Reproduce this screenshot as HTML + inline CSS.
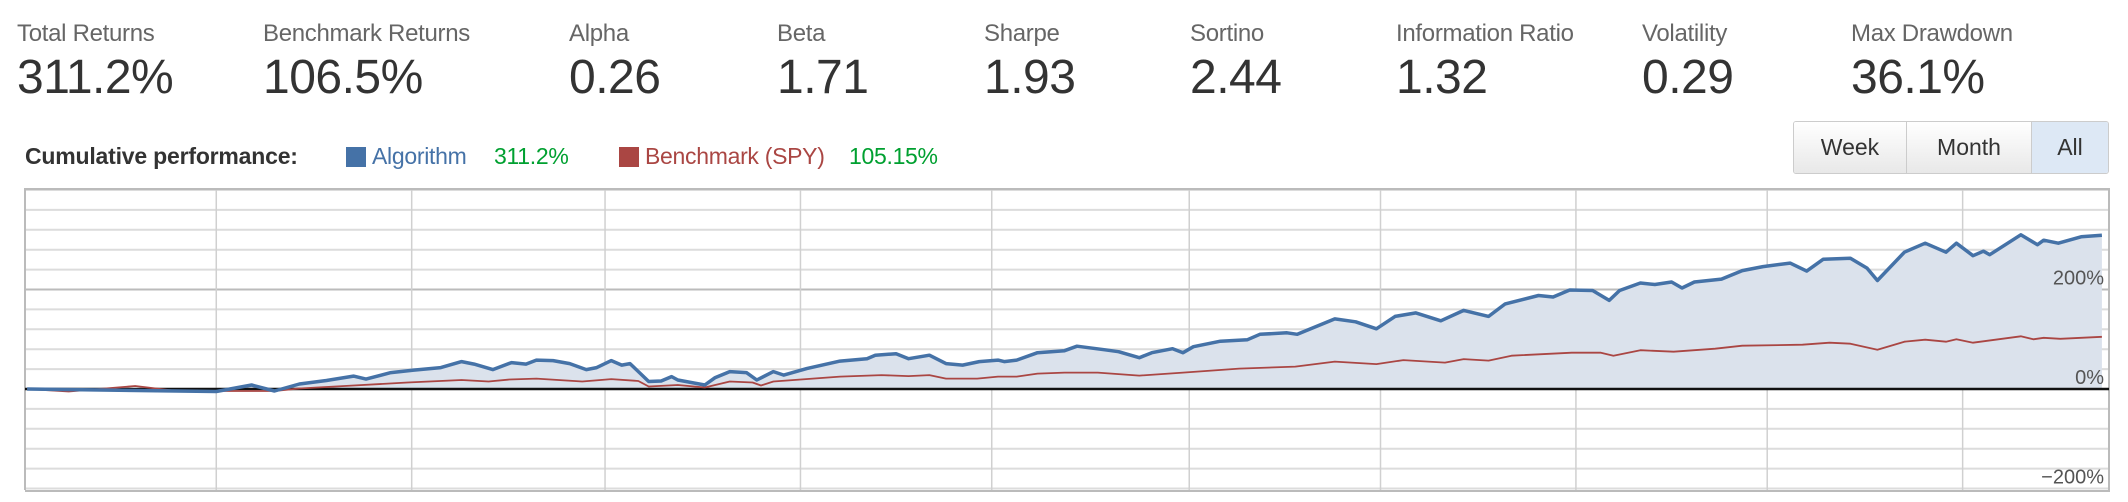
<!DOCTYPE html>
<html><head><meta charset="utf-8">
<style>
body{margin:0;width:2128px;height:502px;background:#fff;font-family:"Liberation Sans",Arial,sans-serif;overflow:hidden;position:relative}
.stat{position:absolute;top:20px}
.stat .lbl{font-size:24px;color:#666;white-space:nowrap;letter-spacing:-0.3px}
.stat .val{font-size:48px;color:#333;margin-top:2px;white-space:nowrap;letter-spacing:-0.5px}
.lg{position:absolute;top:143px;font-size:23px;white-space:nowrap;letter-spacing:-0.3px}
.sw{position:absolute;top:147px;width:20px;height:20px}
#btns{position:absolute;left:1793px;top:121px;width:316px;height:53px;display:flex;border:1px solid #ccc;box-sizing:border-box;border-radius:3px;overflow:hidden}
#btns div{display:flex;align-items:center;justify-content:center;font-size:23px;color:#333;background:linear-gradient(#fff,#e8e8e8);border-right:1px solid #ccc}
</style></head><body>
<div class="stat" style="left:17px"><div class="lbl">Total Returns</div><div class="val">311.2%</div></div>
<div class="stat" style="left:263px"><div class="lbl">Benchmark Returns</div><div class="val">106.5%</div></div>
<div class="stat" style="left:569px"><div class="lbl">Alpha</div><div class="val">0.26</div></div>
<div class="stat" style="left:777px"><div class="lbl">Beta</div><div class="val">1.71</div></div>
<div class="stat" style="left:984px"><div class="lbl">Sharpe</div><div class="val">1.93</div></div>
<div class="stat" style="left:1190px"><div class="lbl">Sortino</div><div class="val">2.44</div></div>
<div class="stat" style="left:1396px"><div class="lbl">Information Ratio</div><div class="val">1.32</div></div>
<div class="stat" style="left:1642px"><div class="lbl">Volatility</div><div class="val">0.29</div></div>
<div class="stat" style="left:1851px"><div class="lbl">Max Drawdown</div><div class="val">36.1%</div></div>

<div class="lg" style="left:25px;font-weight:bold;color:#333;letter-spacing:-0.2px">Cumulative performance:</div>
<div class="sw" style="left:346px;background:#4572a7"></div>
<div class="lg" style="left:372px;color:#4572a7">Algorithm</div>
<div class="lg" style="left:494px;color:#00a030">311.2%</div>
<div class="sw" style="left:619px;background:#aa4643"></div>
<div class="lg" style="left:645px;color:#aa4643">Benchmark (SPY)</div>
<div class="lg" style="left:849px;color:#00a030">105.15%</div>

<div id="btns">
<div style="width:112px">Week</div>
<div style="width:124px">Month</div>
<div style="flex:1;background:#dde8f5;border-right:none">All</div>
</div>

<svg id="chart" width="2128" height="502" style="position:absolute;left:0;top:0"></svg>
<script>
const blueDays=[1,92,109,120,132,145,158,164,176,187,200,210,216,225,234,241,246,254,262,270,275,282,287,291,300,306,311,314,327,332,339,347,352,360,365,376,392,405,409,419,425,435,443,451,459,468,471,477,487,500,506,519,526,536,542,552,557,562,575,588,594,607,612,630,640,650,659,669,681,692,704,712,728,735,743,754,762,767,777,784,792,797,803,816,826,836,849,857,865,878,886,891,904,914,924,929,937,942,945,960,968,971,978,989,999];
const blueVals=[0,-5,8,-4,10,17,26,20,33,38,43,55,50,39,53,50,58,57,51,39,43,57,48,51,15,16,25,18,8,23,35,33,18,35,28,41,56,61,68,71,61,68,51,48,55,58,55,58,73,77,86,79,75,63,73,81,73,85,96,99,110,113,110,141,135,121,146,153,137,158,146,171,188,185,199,198,178,198,213,210,215,203,215,221,238,246,253,237,261,263,243,218,275,293,275,293,268,277,270,310,290,299,293,306,309];
const redDays=[1,21,53,73,92,120,132,158,184,210,223,233,246,268,282,295,300,314,327,339,350,354,360,392,412,425,435,443,458,468,477,487,500,516,536,557,584,611,630,650,663,683,692,704,715,744,758,764,777,793,813,826,855,868,878,891,904,914,924,929,937,960,966,971,979,999];
const redVals=[0,-5,6,-4,-4,-4,1,7,13,18,15,19,21,15,20,16,5,8,3,15,13,7,15,25,28,26,28,21,21,25,25,31,33,33,27,33,41,45,55,50,58,53,60,57,67,73,73,67,78,75,81,87,89,93,91,79,95,99,95,100,93,106,100,103,101,105];
const xTickDays=[92,186,279,373,465,560,652,746,838,932];
const yTicks=[-240,-200,-160,-120,-80,-40,0,40,80,120,160,200,240,280,320,360,400];
const yLabels=[200,0,-200];
const NS="http://www.w3.org/2000/svg";
const svg=document.getElementById('chart');
const X0=25,X1=2104,Y0=389,K=0.4975;
function xs(d){return X0+d/1000*(X1-X0);}
function ys(v){return Y0-v*K;}
function mk(t,a){const e=document.createElementNS(NS,t);for(const k in a)e.setAttribute(k,a[k]);svg.appendChild(e);return e;}
for(const v of yTicks){
 const l=mk('line',{x1:25,x2:2109,y1:ys(v),y2:ys(v),stroke:v===200?'#bbb':'#dcdcdc','stroke-width':2});
 
 
}
for(const d of xTickDays){
 const l=mk('line',{x1:xs(d),x2:xs(d),y1:189,y2:491,stroke:'#d0d0d0','stroke-width':1.5});
 
 
}
const fr=mk('path',{d:'M25,490V189H2109V491H25',fill:'none',stroke:'#bbb','stroke-width':2});


let pb=blueDays.map((d,i)=>(i?'L':'M')+xs(d).toFixed(1)+','+ys(blueVals[i]).toFixed(1)).join('');
const area=mk('path',{d:pb+'L'+xs(blueDays[blueDays.length-1])+','+Y0+'L'+xs(blueDays[0])+','+Y0+'Z',fill:'#dbe2ec'});


const z=mk('line',{x1:25,x2:2109,y1:Y0,y2:Y0,stroke:'#111','stroke-width':2.5});


let pr=redDays.map((d,i)=>(i?'L':'M')+xs(d).toFixed(1)+','+ys(redVals[i]).toFixed(1)).join('');
const rl=mk('path',{d:pr,fill:'none',stroke:'#aa4643','stroke-width':1.8,'stroke-linejoin':'round'});


const bl=mk('path',{d:pb,fill:'none',stroke:'#4572a7','stroke-width':3.5,'stroke-linejoin':'round'});


for(const v of yLabels){
 const t=mk('text',{x:2104,y:ys(v)-5,'text-anchor':'end','font-size':20,fill:'#555','font-family':'Liberation Sans, sans-serif'});
 t.textContent=(v<0?'\u2212':'')+Math.abs(v)+'%';
 
 
}
</script>
</body></html>
